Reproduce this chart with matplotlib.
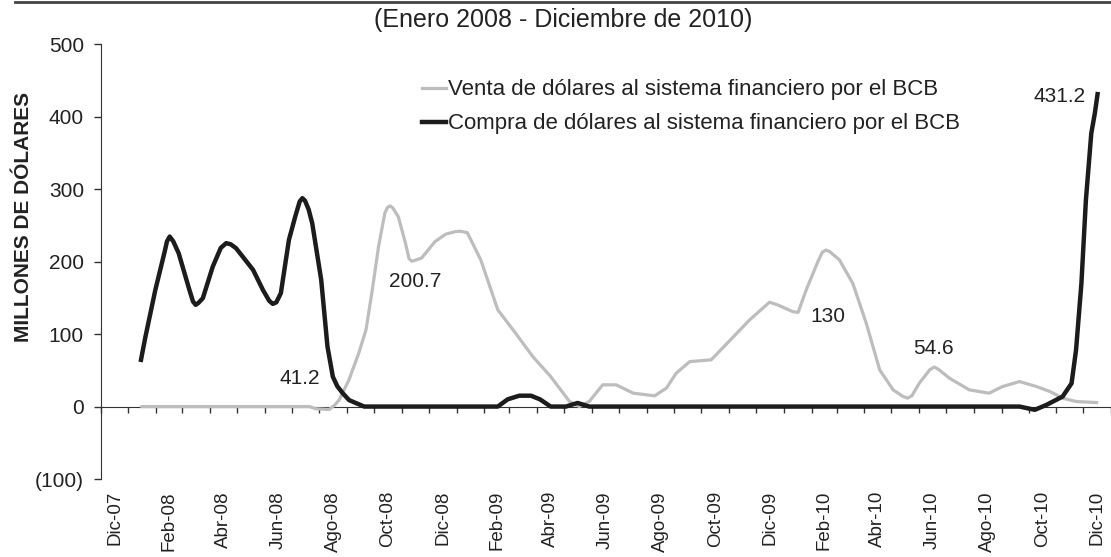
import matplotlib
matplotlib.use("Agg")
import matplotlib.pyplot as plt
import matplotlib.dates as mdates
import matplotlib.transforms as mtransforms
import pandas as pd

plt.rcParams["font.family"] = ["Liberation Sans", "DejaVu Sans"]

# BCB operations with the financial system, millions of USD
compra_dates = ["2008-01-15", "2008-01-20", "2008-01-31", "2008-02-10", "2008-02-13",
                "2008-02-16", "2008-02-20", "2008-02-26", "2008-03-09", "2008-03-13",
                "2008-03-16", "2008-03-19", "2008-03-24", "2008-04-04", "2008-04-13",
                "2008-04-19", "2008-04-24", "2008-04-30", "2008-05-19", "2008-05-30",
                "2008-06-06", "2008-06-10", "2008-06-14", "2008-06-19", "2008-06-28",
                "2008-07-05", "2008-07-10", "2008-07-13", "2008-07-16", "2008-07-20",
                "2008-07-24", "2008-08-03", "2008-08-10", "2008-08-16", "2008-08-21",
                "2008-08-27", "2008-09-03", "2008-09-11", "2008-09-20",
                "2009-02-16", "2009-02-27", "2009-03-12", "2009-03-25", "2009-04-04",
                "2009-04-16", "2009-05-03", "2009-05-16", "2009-05-29", "2010-09-21",
                "2010-10-08", "2010-10-21", "2010-11-08", "2010-11-18", "2010-11-23",
                "2010-11-29", "2010-12-04", "2010-12-10", "2010-12-14", "2010-12-17"]
compra_vals = [64.5, 96.6, 161, 211.7, 228,
               234.6, 228, 211.7, 161, 145,
               140.4, 143, 149.6, 193, 219,
               225.5, 224, 218.6, 188.7, 161,
               146, 141.7, 144, 156.5, 230,
               262, 283, 287.6, 284, 272,
               253, 175, 82.8, 41.2, 28,
               18.5, 9, 4.7, 0,
               0, 10, 15, 15, 10,
               0, 0, 5, 0, 0,
               -4.5, 2.3, 13.8, 32, 78,
               170, 285, 377, 405, 431.2]

venta_dates = ["2008-01-16", "2008-07-21", "2008-07-28", "2008-08-12", "2008-08-18",
               "2008-08-23", "2008-09-03", "2008-09-14", "2008-09-22", "2008-09-29",
               "2008-10-06", "2008-10-13", "2008-10-16", "2008-10-19", "2008-10-22",
               "2008-10-28", "2008-11-05", "2008-11-09", "2008-11-12", "2008-11-16",
               "2008-11-23", "2008-12-08", "2008-12-20", "2008-12-31", "2009-01-05",
               "2009-01-13", "2009-01-28", "2009-02-16", "2009-03-08", "2009-03-27",
               "2009-04-16", "2009-05-07", "2009-05-18", "2009-05-29", "2009-06-13",
               "2009-06-28", "2009-07-17", "2009-08-10", "2009-08-23", "2009-09-03",
               "2009-09-18", "2009-10-12", "2009-10-21", "2009-11-24", "2009-12-16",
               "2009-12-25", "2010-01-11", "2010-01-17", "2010-01-26", "2010-02-08",
               "2010-02-13", "2010-02-17", "2010-02-21", "2010-03-04", "2010-03-19",
               "2010-04-03", "2010-04-18", "2010-05-03", "2010-05-14", "2010-05-19",
               "2010-05-24", "2010-06-01", "2010-06-13", "2010-06-18", "2010-06-23",
               "2010-07-05", "2010-07-27", "2010-08-18", "2010-09-02", "2010-09-21",
               "2010-10-10", "2010-10-25", "2010-11-08", "2010-11-23", "2010-12-16"]
venta_vals = [0, 0, -3, -4, 2,
              9, 37, 74, 106, 161,
              221, 267, 275, 277, 274,
              262, 225.5, 204, 200.7, 202,
              205, 227.7, 238, 241.5, 242,
              240, 202.5, 133.5, 101, 69,
              41.4, 7, 0, 7, 30,
              30, 18.5, 14.8, 25.4, 46,
              62, 64.5, 76, 119.7, 144,
              140.4, 131, 130, 161, 200,
              213, 216, 214, 202.5, 170,
              115, 50.6, 23, 14, 11.6,
              15, 32, 51, 54.6, 51,
              39, 23, 18.5, 27.6, 34.5,
              27.6, 20.7, 11.6, 7, 5.5]

# value labels: (date, text offset in px, alignment)
labels_compra = [("2008-08-16", (-33, -2), "center"), ("2010-12-17", (-12, -2), "right")]
labels_venta = [("2008-11-12", (3, -20), "center"), ("2010-01-17", (30, -4), "center"),
                ("2010-06-18", (-1, 19), "center")]

ytick_vals = [-100, 0, 100, 200, 300, 400, 500]
ytick_text = ["(100)", "0", "100", "200", "300", "400", "500"]
month_names = ["Ene", "Feb", "Mar", "Abr", "May", "Jun",
               "Jul", "Ago", "Sep", "Oct", "Nov", "Dic"]

compra = pd.Series(compra_vals, index=pd.to_datetime(compra_dates))
venta = pd.Series(venta_vals, index=pd.to_datetime(venta_dates))

fig = plt.figure(figsize=(11.11, 5.57), dpi=100)
ax = fig.add_axes([0.0906, 0.140, 0.9094, 0.7805])

gray = "#bdbdbd"
dark = "#1c1c1c"
ax.plot(venta.index, venta.values, color=gray, lw=2.3, solid_joinstyle="round",
        label="Venta de dólares al sistema financiero por el BCB", zorder=3)
ax.plot(compra.index, compra.values, color=dark, lw=3.2, solid_joinstyle="round",
        label="Compra de dólares al sistema financiero por el BCB", zorder=4)

for d, off, ha in labels_compra:
    t = pd.Timestamp(d)
    ax.annotate(f"{compra[t]:g}", (t, compra[t]), xytext=off, textcoords="offset pixels",
                ha=ha, va="center", fontsize=15, color="#222222")
for d, off, ha in labels_venta:
    t = pd.Timestamp(d)
    ax.annotate(f"{venta[t]:g}", (t, venta[t]), xytext=off, textcoords="offset pixels",
                ha=ha, va="center", fontsize=15, color="#222222")

ax.set_xlim(pd.Timestamp("2007-12-01"), pd.Timestamp("2011-01-01"))
ax.set_ylim(-100, 500)
ax.set_yticks(ytick_vals)
ax.set_yticklabels(ytick_text, fontsize=15, color="#222222")
ax.tick_params(axis="y", direction="out", length=5, width=1, color="#333333", pad=7)

# x axis drawn through zero, month ticks, labels hung below the plot
for side in ["top", "right"]:
    ax.spines[side].set_visible(False)
ax.spines["left"].set_color("#333333")
ax.spines["bottom"].set_position(("data", 0))
ax.spines["bottom"].set_color("#333333")
ax.xaxis.set_major_locator(mdates.MonthLocator())
ax.tick_params(axis="x", direction="out", length=4, width=1, color="#333333",
               labelbottom=False)

months = pd.date_range("2007-12-01", "2010-12-01", freq="2MS")
lab_tr = mtransforms.offset_copy(ax.get_xaxis_transform(), fig=fig, y=-12, units="dots")
for m in months:
    mid = m + (m + pd.offsets.MonthBegin(1) - m) / 2
    ax.text(mid, 0, f"{month_names[m.month - 1]}-{m.year % 100:02d}", transform=lab_tr,
            rotation=90, ha="center", va="top", fontsize=13.5, color="#222222")

leg = ax.legend(loc="upper left", bbox_to_anchor=(0.3177, 0.919), frameon=False,
                fontsize=16, handlelength=1.1, handletextpad=0.1, labelspacing=0.58,
                borderpad=0, borderaxespad=0)
for t in leg.get_texts():
    t.set_color("#222222")

fig.text(0.021, 1 - 216.5 / 557, "MILLONES DE DÓLARES", rotation=90, ha="center",
         va="center", fontsize=15, fontweight="bold", color="#222222")
fig.text(0.5068, 1 - 20 / 557, "(Enero 2008 - Diciembre de 2010)", ha="center",
         va="center", fontsize=18, color="#222222")
fig.add_artist(plt.Line2D([15 / 1111, 1], [1 - 1.5 / 557] * 2, color="#444444", lw=2))

fig.savefig("out.png", dpi=100)
